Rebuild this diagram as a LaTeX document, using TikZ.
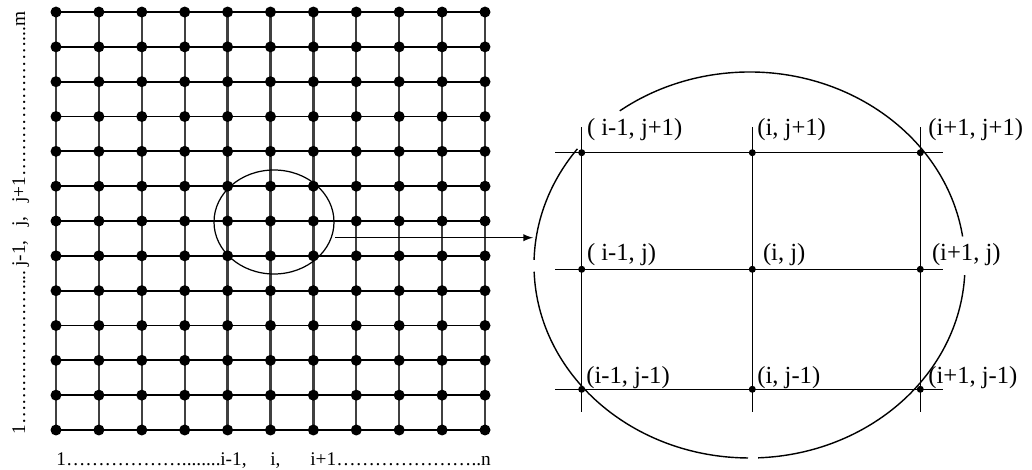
\documentclass[tikz,border=0pt]{standalone}
\usepackage{fontspec}
\setmainfont{Liberation Serif}
\usetikzlibrary{positioning}
\newcommand{\meshfont}{\fontsize{11}{13}\selectfont}
\newcommand{\cellfont}{\fontsize{14}{16}\selectfont}
\newcommand{\ddd}{…}

\begin{document}
\begin{tikzpicture}[x=0.02cm,y=0.02cm]
    \useasboundingbox (0,0) rectangle (1032,470);
    % whole mesh
    \foreach \c in {0,...,10}
        \draw[line width=1.3pt,black!75] (56+42.9*\c,40)--(56+42.9*\c,458);
    \foreach \r in {0,...,12}
        \draw[line width=1pt] (56,40+34.83*\r)--(485,40+34.83*\r);
    \foreach \c in {0,...,10}
        \foreach \r in {0,...,12}
            \fill (56+42.9*\c,40+34.83*\r) circle (5.5);
    \draw[line width=0.7pt] (274,248) ellipse [x radius=60, y radius=52];
    % index labels
    \node[anchor=base west,inner sep=0,font=\meshfont] (xfirst) at (56,4) {1\ddd\ddd\ddd\ddd\ddd\ddd........};
    \node[anchor=base west,inner sep=0,font=\meshfont] (xim) at (220,4) {i-1,};
    \node[anchor=base west,inner sep=0,font=\meshfont] (xi) at (270,4) {i,};
    \node[anchor=base west,inner sep=0,font=\meshfont] (xip) at (310,4) {i+1\ddd\ddd\ddd\ddd\ddd\ddd\ddd..n};
    \node[rotate=90,anchor=base west,inner sep=0,font=\meshfont] (yfirst) at (25,35) {1\ddd\ddd\ddd\ddd\ddd\ddd\ddd....};
    \node[rotate=90,anchor=base west,inner sep=0,font=\meshfont] (yjm) at (25,203) {j-1,};
    \node[rotate=90,anchor=base west,inner sep=0,font=\meshfont] (yj) at (25,243) {j,};
    \node[rotate=90,anchor=base west,inner sep=0,font=\meshfont] (yjp) at (25,267) {j+1\ddd\ddd\ddd\ddd\ddd\ddd\ddd...m};
    % zoom arrow
    \coordinate (zoomfrom) at (335,232.3);
    \coordinate (zoomto) at (533,232.3);
    \draw[-latex,line width=0.9pt] (zoomfrom)--(zoomto);
    % enlarged stencil
    \draw[line width=0.8pt] (749.5,205) ++(8.5:215.5 and 193) arc[start angle=8.5,end angle=127,x radius=215.5,y radius=193];
    \draw[line width=0.8pt] (749.5,205) ++(143:215.5 and 193) arc[start angle=143,end angle=178.5,x radius=215.5,y radius=193];
    \draw[line width=0.8pt] (749.5,205) ++(182:215.5 and 193) arc[start angle=182,end angle=269.6,x radius=215.5,y radius=193];
    \draw[line width=0.8pt] (749.5,205) ++(272.3:215.5 and 193) arc[start angle=272.3,end angle=357,x radius=215.5,y radius=193];
    \foreach \y in {80.7,200.7,317.3}
        \draw[line width=0.7pt] (555,\y)--(943,\y);
    \foreach \x in {581.7,752.3,920.3}
        \draw[line width=0.7pt] (\x,58.3)--(\x,343.3);
    \foreach \x in {581.7,752.3,920.3}
        \foreach \y in {80.7,200.7,317.3}
            \fill (\x,\y) circle (3.5);
    \node[anchor=west,inner sep=0,font=\cellfont] (nw) at (586.7,340) {( i-1, j+1)};
    \node[anchor=west,inner sep=0,font=\cellfont] (n) at (757,340) {(i, j+1)};
    \node[anchor=west,inner sep=0,font=\cellfont] (ne) at (928,340) {(i+1, j+1)};
    \node[anchor=west,inner sep=0,font=\cellfont] (w) at (586.7,215) {( i-1, j)};
    \node[anchor=west,inner sep=0,font=\cellfont] (c) at (762.7,215) {(i, j)};
    \node[anchor=west,inner sep=0,font=\cellfont] (e) at (931.7,215) {(i+1, j)};
    \node[anchor=west,inner sep=0,font=\cellfont] (sw) at (586,92) {(i-1, j-1)};
    \node[anchor=west,inner sep=0,font=\cellfont] (s) at (757,92) {(i, j-1)};
    \node[anchor=west,inner sep=0,font=\cellfont] (se) at (928,92) {(i+1, j-1)};
\end{tikzpicture}
\end{document}
